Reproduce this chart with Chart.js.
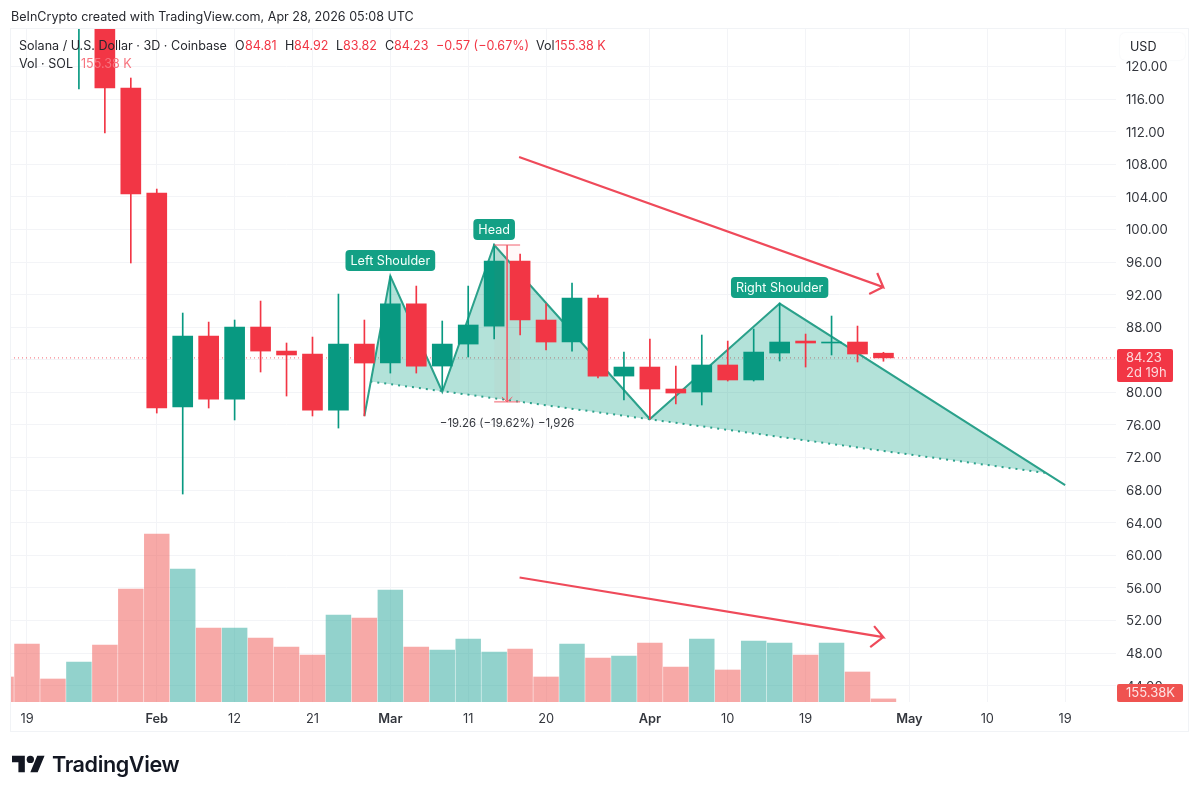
<!DOCTYPE html>
<html><head><meta charset="utf-8">
<style>
html,body{margin:0;padding:0;background:#fff;width:1200px;height:795px;overflow:hidden;font-family:Inter,"Noto Sans",sans-serif;}
canvas{position:absolute;left:0;top:0}
.t{position:absolute;white-space:nowrap;font-size:12.55px;line-height:16px;color:#26282e}
.r{color:#f23645}
.f{color:#f7747f}
#frame{position:absolute;left:10px;top:28px;width:1177px;height:702px;border:1px solid #f1f3f6;box-sizing:content-box;pointer-events:none}
#usd{position:absolute;left:1120px;top:33px;width:65px;height:27px;background:#fff;border-radius:5px;box-shadow:0 0 2px #eceef2;font-size:12.55px;line-height:27px;color:#26282e;text-indent:10px}
#brand{position:absolute;left:52px;top:750px;font-size:21.6px;line-height:28px;font-weight:600;color:#131722;letter-spacing:-.4px}
#logo{position:absolute;left:12px;top:755px;width:33px;height:18px}
</style></head><body>
<canvas id="c" width="1200" height="795"></canvas>
<div id="frame"></div>
<div id="usd">USD</div>
<div class="t" style="left:11px;top:9px">BeInCrypto created with TradingView.com, Apr 28, 2026 05:08 UTC</div>
<div class="t" style="left:19px;top:38px">Solana / U.S. Dollar · 3D · Coinbase</div>
<div class="t" style="left:235px;top:38px">O</div><div class="t r" style="left:245px;top:38px">84.81</div>
<div class="t" style="left:285px;top:38px">H</div><div class="t r" style="left:294px;top:38px">84.92</div>
<div class="t" style="left:336px;top:38px">L</div><div class="t r" style="left:343px;top:38px">83.82</div>
<div class="t" style="left:385px;top:38px">C</div><div class="t r" style="left:394px;top:38px">84.23</div>
<div class="t r" style="left:436px;top:38px">−0.57 (−0.67%)</div>
<div class="t" style="left:536px;top:38px">Vol</div><div class="t r" style="left:555px;top:38px">155.38 K</div>
<div class="t" style="left:19px;top:56px">Vol · SOL</div><div class="t f" style="left:81px;top:56px">155.38 K</div>
<svg id="logo" viewBox="0 4 36 18"><path fill="#131722" d="M14 22H7V11H0V4h14v18zM28 22h-8l7.5-18h8L28 22z"/><circle fill="#131722" cx="20" cy="8" r="4"/></svg>
<div id="brand">TradingView</div>
<script src="https://cdn.jsdelivr.net/npm/chart.js@4/dist/chart.umd.min.js"></script>
<script>
const barDates = ["Jan 16","Jan 19","Jan 22","Jan 25","Jan 28","Jan 31","Feb 3","Feb 6","Feb 9","Feb 12","Feb 15","Feb 18","Feb 21","Feb 24","Feb 27","Mar 2","Mar 5","Mar 8","Mar 11","Mar 14","Mar 17","Mar 20","Mar 23","Mar 26","Mar 29","Apr 1","Apr 4","Apr 7","Apr 10","Apr 13","Apr 16","Apr 19","Apr 22","Apr 25","Apr 28","May 1","May 4","May 7","May 10","May 13","May 16","May 19","May 22"];
const tickDates = ["Jan 19","Feb 3","Feb 12","Feb 21","Mar 2","Mar 11","Mar 20","Apr 1","Apr 10","Apr 19","May 1","May 10","May 19"];
const tickLabels = ["19","Feb","12","21","Mar","11","20","Apr","10","19","May","10","19"];
const priceTicks = [44,48,52,56,60,64,68,72,76,80,84,88,92,96,100,104,108,112,116,120];
const opens  = [null,null,null,null,126,117.36,104.47,78.2,86.92,79.18,88.02,85.07,84.71,77.83,85.93,83.6,90.86,83.23,85.93,88.14,96.12,88.88,86.18,91.58,82,83.11,80.41,80.04,83.36,81.52,84.83,86.3,86.06,86.18,84.81];
const closes = [null,null,null,null,117.36,104.35,78.08,86.92,79.18,88.02,85.07,84.59,77.83,85.93,83.6,90.86,83.23,85.93,88.27,96.12,88.88,86.18,91.58,82,83.11,80.41,79.92,83.36,81.52,84.95,86.18,86.06,86.18,84.71,84.23];
const highs  = [null,null,null,126,127,118.59,104.96,89.74,88.63,88.88,91.21,86.06,86.79,92.07,88.88,94.28,93.05,88.76,93.05,98.21,96.98,90.86,93.42,91.95,84.95,86.55,83.23,87.04,86.3,87.78,90.97,87.16,89.37,88.14,84.92];
const lows   = [null,null,null,117.24,111.84,95.88,77.46,67.52,78.08,76.61,82.5,79.55,77.1,75.62,77.1,82.37,82.37,80.29,84.34,86.55,87.04,85.2,85.07,81.76,79.06,76.73,78.57,78.45,81.39,81.39,83.85,83.11,84.59,83.73,83.82];
const volumesK = [1253,2906,1152,2004,2856,5661,8417,6663,3707,3707,3206,2756,2355,4359,4208,5611,2756,2605,3156,2505,2655,1253,2906,2204,2305,2956,1754,3156,1603,3056,2956,2355,2956,1503,155.38];
const volumeUp = [0,0,0,1,0,0,0,1,0,1,0,0,0,1,0,1,0,1,1,1,0,0,1,0,1,0,0,1,0,1,1,0,1,0,0];
const lastClose = 84.23;
const patternX = [14,15,17,19,25,30,41];
const patternY = [77.1,94.28,80.08,98.09,76.73,90.9,68.62];
const fillX = [14.23,15,17,19,25,30,40.27];
const fillY = [81.34,94.28,80.08,98.09,76.73,90.9,70.1];
const necklineX = [14.23,40.27];
const necklineY = [81.34,70.1];
const arrowPriceX = [19.96,33.99,33.76,33.99,33.45];
const arrowPriceY = [108.89,92.93,94.65,92.93,92.07];
const arrowVolX = [19.98,33.99,33.64,33.99,33.49];
const arrowVolY = [57.27,49.96,51.31,49.96,48.74];
const measureX = [19,20];
const measureTop = 98.09, measureBottom = 78.83, measureMid = 19.5;
const patternLabels = ["Left Shoulder","Head","Right Shoulder"];
const patternLabelX = [15,19,30];
const patternLabelY = [96.18,99.99,92.87];
const measureText = "−19.26 (−19.62%) −1,926";
const priceTagText = "84.23", countdownText = "2d 19h", volumeTagText = "155.38K";

const FONT = 'Inter, "Noto Sans", sans-serif';
const RED='#f23645', GREEN='#089981', LINE='#2ba18b', GRID='#f3f4f7';
const pts=(xs,ys)=>xs.map((x,i)=>({x,y:ys[i]}));
const candles=opens.map((o,i)=>({i,o,c:closes[i],h:highs[i],l:lows[i]}));
const wickData=candles.filter(k=>k.h!=null).map(k=>({x:k.i,y:[k.l,k.h]}));
const wickCols=candles.filter(k=>k.h!=null).map(k=>k.i==3?GREEN:(k.c>=k.o?GREEN:RED));
const bodyData=candles.filter(k=>k.o!=null).map(k=>({x:k.i,y:[k.o,k.c]}));
const bodyCols=candles.filter(k=>k.o!=null).map(k=>k.c>=k.o?GREEN:RED);
const tickIdx=tickDates.map(d=>barDates.indexOf(d));

const annot={id:'annot',afterDatasetsDraw(ch){
  const c=ch.ctx,x=ch.scales.x,y=ch.scales.y,v=ch.scales.vol,a=ch.chartArea;
  c.save();
  c.textBaseline='middle';
  c.font='400 12.6px '+FONT;
  patternLabels.forEach((t,i)=>{
    const px=x.getPixelForValue(patternLabelX[i]),py=y.getPixelForValue(patternLabelY[i]);
    const w=c.measureText(t).width+10,h=21;
    c.fillStyle='#13a085';c.beginPath();c.roundRect(px-w/2,py-h/2,w,h,4);c.fill();
    c.fillStyle='#f4fffb';c.textAlign='center';c.fillText(t,px,py+.5);
  });
  c.fillStyle='#33363d';c.font='11.4px '+FONT;c.textAlign='center';
  c.fillText(measureText,x.getPixelForValue(measureMid),y.getPixelForValue(measureBottom)+21.5);
  const py=y.getPixelForValue(lastClose);
  c.fillStyle=RED;c.beginPath();c.roundRect(a.right+1,py-9,56,33,2);c.fill();
  c.fillStyle='#fdd9dc';c.font='13px '+FONT;c.textAlign='left';
  c.fillText(priceTagText,a.right+10,py+.5);c.fillText(countdownText,a.right+10,py+15.5);
  const vy=v.getPixelForValue(0);
  c.fillStyle='#ef5350';c.beginPath();c.roundRect(a.right+1,vy-18,66,18,2);c.fill();
  c.fillStyle='#fde3e3';c.font='13px '+FONT;c.fillText(volumeTagText,a.right+10,vy-8.5);
  c.restore();
}};

new Chart(document.getElementById('c'),{
 type:'bar',
 data:{datasets:[
  {type:'bar',label:'Volume',yAxisID:'vol',order:50,data:volumesK.map((y,i)=>({x:i,y})),barThickness:24.8,
   backgroundColor:volumeUp.map(u=>u?'rgba(38,166,154,.5)':'rgba(239,83,80,.5)')},
  {type:'line',label:'Last',yAxisID:'y',order:45,data:pts([0.345,42.96],[lastClose,lastClose]),borderColor:'rgba(242,54,69,.75)',borderWidth:1,borderDash:[1,3],pointRadius:0},
  {type:'line',label:'Pattern fill',yAxisID:'y',order:40,data:pts(fillX,fillY),borderWidth:0,pointRadius:0,fill:'+1',backgroundColor:'rgba(23,166,140,.33)',tension:0},
  {type:'line',label:'Neckline',yAxisID:'y',order:39,data:pts(necklineX,necklineY),borderColor:LINE,borderWidth:2,borderDash:[2,5],pointRadius:0,fill:false},
  {type:'line',label:'Pattern',yAxisID:'y',order:38,data:pts(patternX,patternY),borderColor:LINE,borderWidth:2,pointRadius:0,fill:false,tension:0,borderJoinStyle:'miter'},
  {type:'bar',label:'Wick',yAxisID:'y',order:20,data:wickData,barThickness:1,backgroundColor:wickCols},
  {type:'bar',label:'Body',yAxisID:'y',order:10,data:bodyData,barThickness:20,backgroundColor:bodyCols},
  {type:'line',label:'Measure',yAxisID:'y',order:6,data:pts(measureX,[measureTop,measureTop]),borderColor:'#f0616e',borderWidth:1,pointRadius:0,fill:{value:measureBottom},backgroundColor:'rgba(242,54,69,.03)'},
  {type:'line',label:'Measure bottom',yAxisID:'y',order:6,data:pts(measureX,[measureBottom,measureBottom]),borderColor:'#f0616e',borderWidth:1,pointRadius:0,fill:false},
  {type:'line',label:'Measure stem',yAxisID:'y',order:6,data:pts([measureMid,measureMid],[measureTop,measureBottom]),borderColor:'#f0616e',borderWidth:1,pointRadius:0,fill:false},
  {type:'line',label:'Measure head',yAxisID:'y',order:6,data:pts([measureMid-.2,measureMid,measureMid+.2],[measureBottom+.6,measureBottom,measureBottom+.6]),borderColor:'#f0616e',borderWidth:1,pointRadius:0,fill:false},
  {type:'line',label:'Arrow price',yAxisID:'y',order:5,data:pts(arrowPriceX,arrowPriceY),borderColor:'#ef4a5a',borderWidth:2.2,pointRadius:0,fill:false,tension:0},
  {type:'line',label:'Arrow volume',yAxisID:'y',order:5,data:pts(arrowVolX,arrowVolY),borderColor:'#ef4a5a',borderWidth:2.2,pointRadius:0,fill:false,tension:0}
 ]},
 options:{
  responsive:false,animation:false,events:[],
  layout:{padding:{left:10,right:12,top:28,bottom:64}},
  datasets:{bar:{grouped:false},line:{spanGaps:true}},
  plugins:{legend:{display:false},tooltip:{enabled:false}},
  scales:{
   x:{type:'linear',position:'bottom',min:0.345,max:42.96,offset:false,
      grid:{color:GRID,lineWidth:1,drawTicks:false,offset:false},border:{display:false},
      afterBuildTicks(s){s.ticks=tickIdx.map(value=>({value}));},
      afterFit(s){s.height=29;},
      ticks:{autoSkip:false,maxRotation:0,padding:9,color:'#33363d',
        callback(v){return tickLabels[tickIdx.indexOf(v)];},
        font(ctx){const l=tickLabels[ctx.index]||'';return {family:FONT,size:12.8,weight:/[A-Za-z]/.test(l)?'600':'400'};}}},
   y:{type:'linear',position:'right',min:41.99,max:124.73,
      grid:{color:GRID,lineWidth:1,drawTicks:false},border:{display:false},
      afterBuildTicks(s){s.ticks=priceTicks.map(value=>({value}));},
      afterFit(s){s.width=72;},
      ticks:{padding:10,crossAlign:'near',labelOffset:1,color:'#33363d',font:{family:FONT,size:13.2},callback(v){return v.toFixed(2);}}},
   vol:{type:'linear',display:false,min:0,max:33767,position:'left',grid:{display:false},afterFit(s){s.width=0;}}
  }
 },
 plugins:[annot]
});
</script>
</body></html>
